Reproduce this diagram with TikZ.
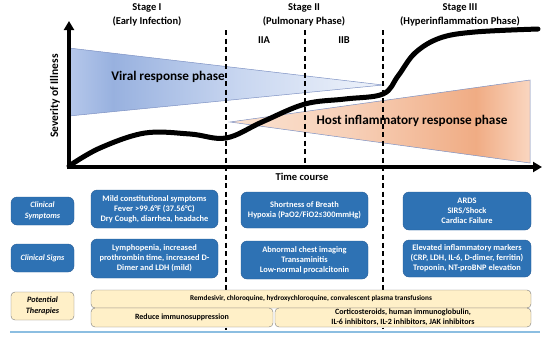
\documentclass[tikz,border=0pt]{standalone}
\usepackage{fontspec}
\setmainfont{Carlito}
\usepackage{tikz}
\usetikzlibrary{arrows.meta,positioning}
\definecolor{clinblue}{RGB}{46,114,180}
\definecolor{clinedge}{RGB}{38,92,150}
\definecolor{thercream}{RGB}{255,240,200}
\definecolor{theredge}{RGB}{120,120,120}
\definecolor{triedge}{RGB}{125,145,195}
\definecolor{rulecol}{RGB}{140,190,225}
\definecolor{viralA}{RGB}{182,200,235}
\definecolor{viralB}{RGB}{152,177,223}
\definecolor{viralC}{RGB}{200,214,240}
\definecolor{viralD}{RGB}{240,244,251}
\definecolor{hostA}{RGB}{251,226,208}
\definecolor{hostB}{RGB}{247,208,184}
\definecolor{hostC}{RGB}{240,172,132}
\definecolor{hostD}{RGB}{250,214,192}
\pgfdeclarehorizontalshading{viralshade}{100bp}{color(0bp)=(viralA); color(25bp)=(viralA);
  color(32bp)=(viralB); color(52bp)=(viralC); color(75bp)=(viralD); color(100bp)=(viralD)}
\pgfdeclarehorizontalshading{hostshade}{100bp}{color(0bp)=(hostA); color(25bp)=(hostA);
  color(45bp)=(hostB); color(66bp)=(hostC); color(75bp)=(hostD); color(100bp)=(hostD)}

\begin{document}
\begin{tikzpicture}[x=1pt,y=-1pt,
  axisline/.style={line width=3.5pt,-{Triangle[length=9pt,width=10pt]}},
  stagedash/.style={line width=1.6pt,dash pattern=on 5pt off 3.5pt},
  stagetitle/.style={font=\fontsize{10.5}{14.5}\selectfont\bfseries,align=center},
  phaselabel/.style={font=\fontsize{13.2}{15}\selectfont\bfseries},
  clinbox/.style={draw=clinedge,fill=clinblue,rounded corners=6pt,text=white,
    font=\fontsize{8.4}{10}\selectfont\bfseries,align=center,inner sep=1pt},
  labelbox/.style={clinbox,minimum width=63pt,minimum height=28pt,
    font=\fontsize{8.2}{11}\selectfont\bfseries\itshape},
  therbox/.style={draw=theredge,fill=thercream,rounded corners=4pt,
    font=\fontsize{8}{10}\selectfont\bfseries,align=center,inner sep=1pt}]

\useasboundingbox (0,0) rectangle (550,341);

% ---------------- phase wedges ----------------
\shadedraw[shading=viralshade,draw=triedge,line width=0.5pt]
  (69,48) -- (383,85) -- (69,116) -- cycle;
\shadedraw[shading=hostshade,draw=triedge,line width=0.5pt]
  (230,122) -- (530,80) -- (530,163) -- cycle;
\node[phaselabel] (viral) at (168,77) {Viral response phase};
\node[phaselabel] (host) at (412,121) {Host inflammatory response phase};

% ---------------- stage borders ----------------
\draw[stagedash] (226,30) -- (226,330);
\draw[stagedash] (305,30) -- (305,166);
\draw[stagedash] (383,30) -- (383,328);

% ---------------- severity curve ----------------
\draw[line width=5pt,line cap=round] plot[smooth,tension=0.6] coordinates {
  (69,166) (100,148) (145,133) (190,134) (226,138) (262,122) (305,104)
  (345,99) (383,94) (398,76) (415,53) (440,38) (475,32) (538,29)};

% ---------------- axes ----------------
\draw[axisline] (69,169) -- (69,21);
\draw[axisline] (67,167) -- (542,167);
\node[font=\fontsize{11.5}{13}\selectfont\bfseries,rotate=90] (sev) at (55,96) {Severity of Illness};
\node[font=\fontsize{10.5}{12}\selectfont\bfseries] (time) at (302,177) {Time course};

% ---------------- stage titles ----------------
\node[stagetitle] (st1) at (147,15) {Stage I\\(Early Infection)};
\node[stagetitle] (st2) at (304,15) {Stage II\\(Pulmonary Phase)};
\node[stagetitle] (st3) at (460,15) {Stage III\\(Hyperinflammation Phase)};
\node[stagetitle] (s2a) at (264,40) {IIA};
\node[stagetitle] (s2b) at (344,40) {IIB};

% ---------------- clinical rows ----------------
\node[labelbox] (lsym) at (42.5,211) {Clinical\\Symptoms};
\node[labelbox] (lsig) at (42.5,258) {Clinical Signs};
\node[labelbox,draw=theredge,fill=thercream,text=black,rounded corners=4pt] (lther) at (42.5,306)
  {Potential\\Therapies};

\node[clinbox,minimum width=127pt,minimum height=38pt] (sym1) at (154.5,209)
  {Mild constitutional symptoms\\Fever >99.6°F (37.56°C)\\Dry Cough, diarrhea, headache};
\node[clinbox,minimum width=127pt,minimum height=39pt] (sig1) at (154.5,258.5)
  {Lymphopenia, increased\\prothrombin time, increased D-\\Dimer and LDH (mild)};
\node[clinbox,minimum width=127pt,minimum height=36pt] (sym2) at (304.5,210)
  {Shortness of Breath\\Hypoxia (PaO2/FiO2≤300mmHg)};
\node[clinbox,minimum width=127pt,minimum height=38pt] (sig2) at (304.5,260)
  {Abnormal chest imaging\\Transaminitis\\Low-normal procalcitonin};
\node[clinbox,minimum width=128pt,minimum height=38pt] (sym3) at (467,211)
  {ARDS\\SIRS/Shock\\Cardiac Failure};
\node[clinbox,minimum width=128pt,minimum height=37pt] (sig3) at (467,258.5)
  {Elevated inflammatory markers\\(CRP, LDH, IL-6, D-dimer, ferritin)\\Troponin, NT-proBNP elevation};

% ---------------- therapies ----------------
\node[therbox,minimum width=440pt,minimum height=18pt,font=\fontsize{7.3}{10}\selectfont\bfseries]
  (ther) at (311,299)
  {Remdesivir, chloroquine, hydroxychloroquine, convalescent plasma transfusions};
\node[therbox,minimum width=182pt,minimum height=19pt] (therA) at (182,317.5)
  {Reduce immunosuppression};
\node[therbox,minimum width=256pt,minimum height=19pt] (therB) at (403,317.5)
  {Corticosteroids, human immunoglobulin,\\IL-6 inhibitors, IL-2 inhibitors, JAK inhibitors};

\draw[rulecol,line width=1.2pt] (10,332) -- (540,332);

\end{tikzpicture}
\end{document}
